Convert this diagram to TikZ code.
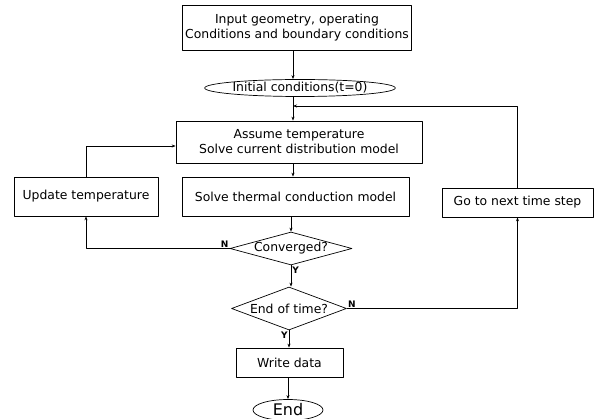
\documentclass[tikz,border=0pt]{standalone}
\usepackage{fontspec}
\setmainfont{DejaVu Sans}
\usetikzlibrary{shapes.geometric,arrows.meta}
\begin{document}
\begin{tikzpicture}[x=1pt,y=-1pt,line join=round,>={Stealth[length=4pt,width=3pt]},font=\fontsize{12.4}{15}\selectfont,line width=0.7pt,
	box/.style={draw,rectangle,align=center,inner sep=0pt},
	term/.style={draw,ellipse,inner sep=0pt},
	decide/.style={draw,diamond,aspect=3.6,inner sep=0pt},
	yn/.style={font=\fontsize{9}{10}\selectfont\bfseries,inner sep=1pt}]
		\def \spine{293};
		\useasboundingbox (0,0) rectangle (598,419);
		\node[box,minimum width=229,minimum height=45] (input) at (297,27.5) {Input geometry, operating\\Conditions and boundary conditions};
		\node[term,minimum width=167,minimum height=17] (init) at (300,88) {Initial conditions(t=0)};
		\coordinate (merge) at (\spine,106);
		\node[box,minimum width=246,minimum height=42] (assume) at (299,142) {Assume temperature\\Solve current distribution model};
		\node[box,minimum width=227,minimum height=39] (thermal) at (295.5,196.5) {Solve thermal conduction model};
		\node[box,minimum width=144,minimum height=39] (update) at (86,196.5) {Update temperature};
		\node[box,minimum width=151,minimum height=29] (next) at (517.5,202.5) {Go to next time step};
		\node[decide,minimum width=122,minimum height=33] (conv) at (291,248.5) {Converged?};
		\node[decide,minimum width=115,minimum height=43] (eot) at (289,308.5) {End of time?};
		\node[box,minimum width=107,minimum height=29] (write) at (289.5,362.5) {Write data};
		\node[term,minimum width=70,minimum height=21,font=\fontsize{16}{18}\selectfont] (end) at (288,410) {End};
		\draw[->] (input.south -| merge) -- (init.north -| merge);
		\draw[->] (init.south -| merge) -- (assume.north -| merge);
		\draw[->] (next.north) |- (merge);
		\draw[->] (assume.south -| merge) -- (thermal.north -| merge);
		\draw[->] (thermal.south -| conv.north) -- (conv.north);
		\draw[->] (conv.west) -| (update.south);
		\draw[->] (update.north) |- ([yshift=-4pt]assume.west);
		\draw[->] (conv.south) -- (conv.south |- eot.north);
		\draw[->] (eot.east) -| (next.south);
		\draw[->] (eot.south) -- (eot.south |- write.north);
		\draw[->] (write.south -| end.north) -- (end.north);
		\node[yn,above left] (nconv) at (conv.west) {N};
		\node[yn,below right] (yconv) at (conv.south) {Y};
		\node[yn,above right] (neot) at (eot.east) {N};
		\node[yn,below left] (yeot) at (eot.south) {Y};
\end{tikzpicture}
\end{document}
